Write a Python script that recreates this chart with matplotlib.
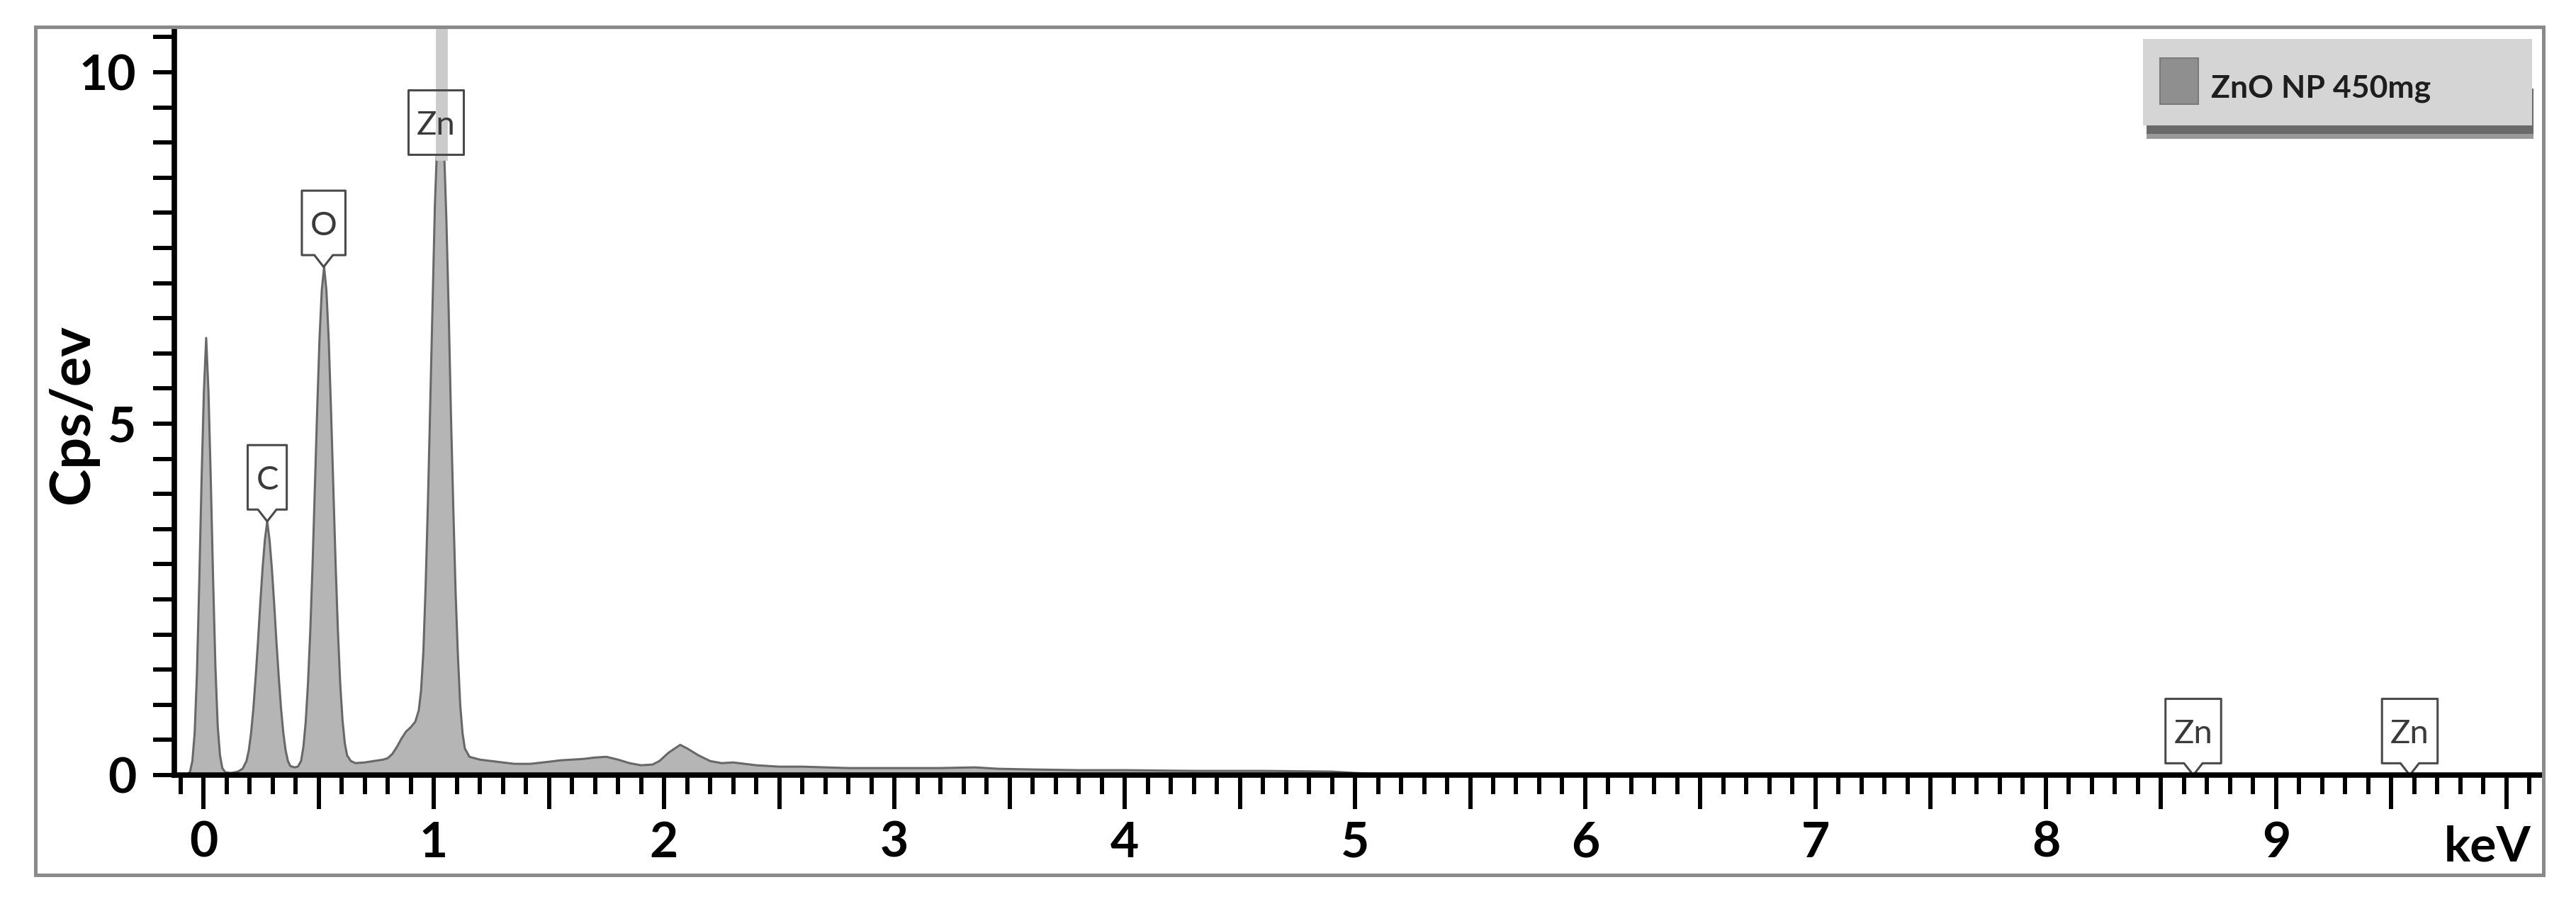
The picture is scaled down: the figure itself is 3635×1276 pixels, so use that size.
import matplotlib
matplotlib.use('Agg')
import matplotlib.pyplot as plt
import matplotlib.transforms as mtransforms
from matplotlib.path import Path
from matplotlib.patches import PathPatch, Rectangle
from matplotlib.ticker import MultipleLocator, FuncFormatter

# EDS spectrum: energy (keV) and counts (cps/eV)
energy = [-0.070, -0.058, -0.048, -0.038, -0.028, -0.018, -0.008, 0.002, 0.012, 0.022,
          0.032, 0.042, 0.052, 0.062, 0.072, 0.082, 0.095,
          0.120, 0.150, 0.170, 0.187, 0.197, 0.207, 0.217, 0.227, 0.237, 0.247, 0.257,
          0.267, 0.277, 0.287, 0.297, 0.307, 0.317, 0.327, 0.337, 0.347, 0.357, 0.367,
          0.377, 0.395, 0.410,
          0.424, 0.434, 0.444, 0.454, 0.464, 0.474, 0.484, 0.494, 0.504, 0.514, 0.524,
          0.534, 0.544, 0.554, 0.564, 0.574, 0.584, 0.594, 0.604, 0.614, 0.624, 0.640, 0.660,
          0.700, 0.740, 0.780, 0.800, 0.820, 0.840, 0.860, 0.880, 0.900, 0.920,
          0.935, 0.945, 0.955, 0.965, 0.975, 0.985, 0.995, 1.005, 1.015, 1.022, 1.028,
          1.035, 1.045, 1.055, 1.065, 1.075, 1.085, 1.095, 1.105, 1.115, 1.125, 1.135,
          1.155, 1.200,
          1.25, 1.30, 1.35, 1.42, 1.50, 1.55, 1.60, 1.65, 1.70, 1.75,
          1.80, 1.85, 1.90, 1.95, 1.98, 2.02, 2.07, 2.10, 2.15, 2.20,
          2.25, 2.30, 2.35, 2.40, 2.50, 2.60, 2.70, 2.80, 3.00, 3.20,
          3.35, 3.45, 3.60, 3.80, 4.00, 4.30, 4.60, 4.90, 5.00, 5.10,
          6.00, 7.00, 8.00, 9.00, 10.15]
cps = [0.00, 0.05, 0.20, 0.60, 1.45, 2.75, 4.20, 5.45, 6.22, 5.45,
       4.20, 2.80, 1.55, 0.70, 0.28, 0.10, 0.04,
       0.03, 0.05, 0.09, 0.20, 0.35, 0.60, 0.95, 1.40, 1.90, 2.45, 2.95,
       3.35, 3.61, 3.35, 2.95, 2.45, 1.90, 1.40, 0.95, 0.60, 0.35, 0.20,
       0.13, 0.11, 0.12,
       0.20, 0.40, 0.75, 1.30, 2.05, 3.00, 4.10, 5.20, 6.20, 6.90, 7.23,
       6.90, 6.20, 5.20, 4.10, 3.00, 2.05, 1.30, 0.78, 0.45, 0.28, 0.20, 0.17,
       0.18, 0.20, 0.22, 0.24, 0.30, 0.40, 0.52, 0.62, 0.68, 0.76,
       0.92, 1.20, 1.75, 2.70, 3.90, 5.30, 6.70, 8.10, 9.00, 9.40, 9.60,
       9.40, 8.90, 7.90, 6.60, 5.10, 3.80, 2.60, 1.70, 1.00, 0.60, 0.38,
       0.26, 0.22,
       0.20, 0.18, 0.16, 0.16, 0.19, 0.21, 0.22, 0.23, 0.25, 0.26,
       0.22, 0.17, 0.14, 0.15, 0.20, 0.32, 0.43, 0.38, 0.28, 0.20,
       0.17, 0.18, 0.16, 0.14, 0.12, 0.12, 0.11, 0.10, 0.10, 0.10,
       0.11, 0.09, 0.08, 0.07, 0.07, 0.06, 0.06, 0.05, 0.03, 0.015,
       0.01, 0.008, 0.006, 0.005, 0.005]

# element markers (callout boxes)
marker_names = ['C', 'O', 'Zn', 'Zn', 'Zn']
marker_kev = [0.277, 0.522, 1.009, 8.64, 9.58]
marker_cps = [3.61, 7.23, 8.83, 0.0, 0.0]
marker_pointer = [True, True, False, True, True]
zn_line_kev = 1.034

legend_label = 'ZnO NP 450mg'
x_label = 'keV'
y_label = 'Cps/ev'

plt.rcParams['font.family'] = ['Lato', 'DejaVu Sans']
plt.rcParams['font.weight'] = 'bold'

fig = plt.figure(figsize=(36.35, 12.76), dpi=100)
ax = fig.add_axes([0.0677, 0.1426, 0.9191, 0.8261])

ax.fill_between(energy, cps, 0, color='#b5b5b5', lw=0, zorder=1.5)
ax.plot(energy, cps, color='#686868', lw=2.2, zorder=1.8)

ymax = 10.625
ax.set_xlim(-0.126, 10.154)
ax.set_ylim(0, ymax)

for s in ['top', 'right']:
    ax.spines[s].set_visible(False)
for s in ['left', 'bottom']:
    ax.spines[s].set_linewidth(5.5)
    ax.spines[s].set_color('black')
    ax.spines[s].set_zorder(5)

ax.xaxis.set_major_locator(MultipleLocator(0.5))
ax.xaxis.set_minor_locator(MultipleLocator(0.1))
ax.yaxis.set_major_locator(MultipleLocator(0.5))


def xfmt(v, pos):
    r = round(v)
    if abs(v - r) < 1e-6 and 0 <= r < 10:
        return str(int(r))
    return ''


def yfmt(v, pos):
    r = round(v)
    if abs(v - r) < 1e-6 and r % 5 == 0:
        return str(int(r))
    return ''


ax.xaxis.set_major_formatter(FuncFormatter(xfmt))
ax.yaxis.set_major_formatter(FuncFormatter(yfmt))
ax.tick_params(axis='x', which='major', direction='out', length=34.5, width=4.3,
               pad=12, labelsize=50)
ax.tick_params(axis='x', which='minor', direction='out', length=19.5, width=4.3)
ax.tick_params(axis='y', which='major', direction='out', length=21.6, width=4.3,
               pad=17, labelsize=50)

# half-keV ticks are a bit shorter than the whole-keV ones
for t in ax.xaxis.get_major_ticks():
    if abs(t.get_loc() - round(t.get_loc())) > 1e-6:
        t.tick1line.set_markersize(25.5)

# highlight line at the Zn L peak
ax.axvline(zn_line_kev, ymin=marker_cps[2] / ymax, ymax=1, color='#cbcbcb', lw=12, zorder=3.2)

# callouts
renderer = fig.canvas.get_renderer()
pt = fig.dpi / 72.0
box_h = 65.5
lab_size = 34
for name, xk, yk, has_ptr in zip(marker_names, marker_kev, marker_cps, marker_pointer):
    d = 12.0 if has_ptr else 0.0
    t = ax.annotate(name, xy=(xk, yk), xytext=(0, d + box_h / 2 - 0.36 * lab_size),
                    textcoords='offset points', ha='center', va='baseline',
                    fontsize=lab_size, fontweight='normal', color='#3a3a3a',
                    zorder=3.6, annotation_clip=False)
    w = t.get_window_extent(renderer).width / pt + 17
    hw = 9.4
    if has_ptr:
        verts = [(-w / 2, d), (-hw, d), (0, 0), (hw, d), (w / 2, d),
                 (w / 2, d + box_h), (-w / 2, d + box_h), (-w / 2, d)]
    else:
        verts = [(-w / 2, d), (w / 2, d), (w / 2, d + box_h), (-w / 2, d + box_h), (-w / 2, d)]
    codes = [Path.MOVETO] + [Path.LINETO] * (len(verts) - 2) + [Path.CLOSEPOLY]
    tr = mtransforms.Affine2D().scale(pt) + mtransforms.ScaledTranslation(xk, yk, ax.transData)
    ax.add_patch(PathPatch(Path(verts, codes), transform=tr, facecolor='white',
                           edgecolor='none', zorder=3.0, clip_on=False))
    ax.add_patch(PathPatch(Path(verts, codes), transform=tr, facecolor='none',
                           edgecolor='#4a4a4a', lw=2.2, joinstyle='round', zorder=3.4,
                           clip_on=False))

# axis labels
ax.text(9.917, 0.0478, x_label, transform=mtransforms.blended_transform_factory(ax.transData, fig.transFigure),
        ha='center', va='baseline', fontsize=50, fontweight='bold')
fig.text(0.0283, 0.5415, y_label, rotation=90, ha='center', va='center',
         fontsize=57, fontweight='bold')

# legend box with its drop shadow (figure coords)
fig.add_artist(Rectangle((0.8334, 0.8464), 0.1500, 0.05, transform=fig.transFigure,
                         facecolor='#9a9a9a', edgecolor='none', zorder=6))
fig.add_artist(Rectangle((0.8334, 0.8520), 0.1500, 0.05, transform=fig.transFigure,
                         facecolor='#6a6a6a', edgecolor='none', zorder=6.5))
fig.add_artist(Rectangle((0.8319, 0.8613), 0.1510, 0.0956, transform=fig.transFigure,
                         facecolor='#d5d5d5', edgecolor='none', zorder=7))
fig.add_artist(Rectangle((0.8385, 0.8848), 0.0149, 0.0509, transform=fig.transFigure,
                         facecolor='#8f8f8f', edgecolor='#7a7a7a', lw=1.5, zorder=8))
fig.text(0.8583, 0.8926, legend_label, ha='left', va='baseline', fontsize=32,
         fontweight='bold', color='#1e1e1e', zorder=9)

# outer frame
fig.add_artist(Rectangle((0.01376, 0.03213), 0.97359, 0.93809, transform=fig.transFigure,
                         fill=False, edgecolor='#8a8a8a', lw=3.6, zorder=10))

fig.savefig('out.png', dpi=100, facecolor='white')
